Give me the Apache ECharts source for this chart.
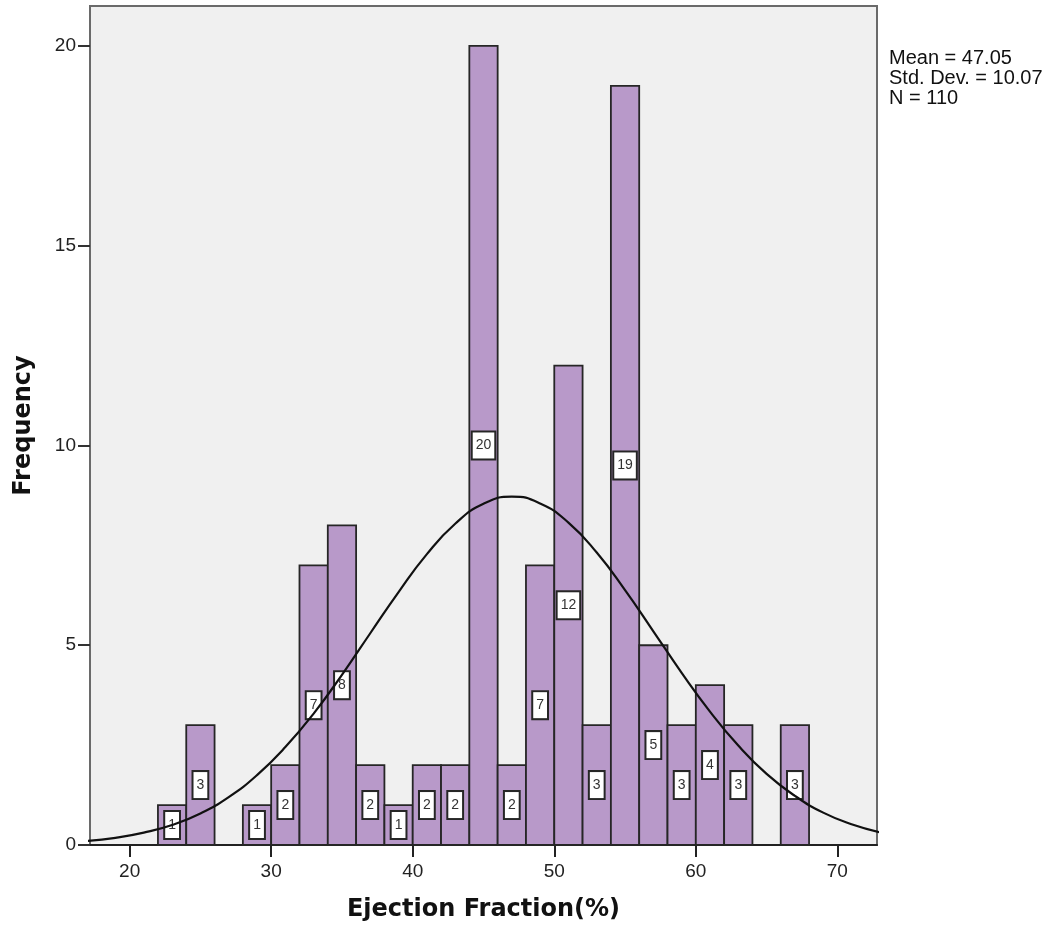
<!DOCTYPE html>
<html>
<head>
<meta charset="utf-8">
<title>Ejection Fraction histogram</title>
<script src="https://cdn.jsdelivr.net/npm/echarts@6/dist/echarts.min.js"></script>
<style>
  html, body { margin: 0; padding: 0; background: #fff; }
  #chart { width: 1055px; height: 936px; }
</style>
</head>
<body>
<div id="chart"></div>
<script>
// histogram bins (width 2) and counts
var binStarts = [22, 24, 26, 28, 30, 32, 34, 36, 38, 40, 42, 44, 46, 48, 50, 52, 54, 56, 58, 60, 62, 64, 66];
var binCounts = [1, 3, 0, 1, 2, 7, 8, 2, 1, 2, 2, 20, 2, 7, 12, 3, 19, 5, 3, 4, 3, 0, 3];
var binWidth = 2;

// normal curve
var curveX = [17, 19, 21, 23, 25, 27, 29, 31, 33, 35, 37, 39, 41, 43, 45, 47, 49, 51, 53, 55, 57, 59, 61, 63, 65, 67, 69, 71, 73];
var curveY = [0.10, 0.18, 0.31, 0.50, 0.79, 1.20, 1.75, 2.45, 3.29, 4.26, 5.30, 6.33, 7.28, 8.04, 8.54, 8.72, 8.55, 8.07, 7.32, 6.38, 5.35, 4.31, 3.34, 2.49, 1.78, 1.23, 0.81, 0.52, 0.32];

var xTicks = [20, 30, 40, 50, 60, 70];
var yTicks = [0, 5, 10, 15, 20];
var statsLines = ['Mean = 47.05', 'Std. Dev. = 10.07', 'N = 110'];

var barData = [];
for (var i = 0; i < binStarts.length; i++) {
    if (binCounts[i] > 0) barData.push([binStarts[i], binStarts[i] + binWidth, binCounts[i]]);
}
var curveData = curveX.map(function (x, i) { return [x, curveY[i]]; });

var chart = echarts.init(document.getElementById('chart'), null, { renderer: 'canvas' });

chart.setOption({
    animation: false,
    backgroundColor: '#ffffff',
    grid: {
        left: 90, right: 178, top: 6, bottom: 91,
        show: true,
        backgroundColor: '#f0f0f0',
        borderColor: '#6a6a6a',
        borderWidth: 2
    },
    xAxis: {
        type: 'value',
        min: 17.2,
        max: 72.8,
        name: 'Ejection Fraction(%)',
        nameLocation: 'middle',
        nameGap: 53,
        nameTextStyle: { fontFamily: 'DejaVu Sans', fontWeight: 'bold', fontSize: 24, color: '#111' },
        axisLine: { show: true, lineStyle: { color: '#222', width: 2 } },
        axisTick: { show: true, length: 12, customValues: xTicks, lineStyle: { color: '#222', width: 2 } },
        axisLabel: { customValues: xTicks, margin: 17, fontFamily: 'Liberation Sans', fontSize: 19, color: '#222' },
        splitLine: { show: false }
    },
    yAxis: {
        type: 'value',
        min: 0,
        max: 21,
        name: 'Frequency',
        nameLocation: 'middle',
        nameGap: 54,
        nameTextStyle: { fontFamily: 'DejaVu Sans', fontWeight: 'bold', fontSize: 24, color: '#111' },
        axisLine: { show: true, lineStyle: { color: '#6a6a6a', width: 2 } },
        axisTick: { show: true, length: 12, customValues: yTicks, lineStyle: { color: '#333', width: 2 } },
        axisLabel: { customValues: yTicks, margin: 14, fontFamily: 'Liberation Sans', fontSize: 19, color: '#222' },
        splitLine: { show: false }
    },
    graphic: [{
        type: 'text',
        left: 889,
        top: 48,
        style: {
            text: statsLines.join('\n'),
            font: '20px "Liberation Sans", Arial, sans-serif',
            lineHeight: 20,
            fill: '#111'
        }
    }],
    series: [
        {
            type: 'custom',
            data: barData,
            encode: { x: [0, 1], y: 2 },
            renderItem: function (params, api) {
                var p0 = api.coord([api.value(0), 0]);
                var p1 = api.coord([api.value(1), api.value(2)]);
                var mid = api.coord([(api.value(0) + api.value(1)) / 2, api.value(2) / 2]);
                return {
                    type: 'group',
                    children: [
                        {
                            type: 'rect',
                            shape: { x: p0[0], y: p1[1], width: p1[0] - p0[0], height: p0[1] - p1[1] },
                            style: { fill: '#b899c9', stroke: '#262626', lineWidth: 1.8 }
                        },
                        {
                            type: 'text',
                            x: mid[0],
                            y: mid[1],
                            style: {
                                text: String(api.value(2)),
                                align: 'center',
                                verticalAlign: 'middle',
                                font: '14px "Liberation Sans", Arial, sans-serif',
                                fill: '#333',
                                backgroundColor: '#ffffff',
                                borderColor: '#262626',
                                borderWidth: 2,
                                padding: [6, 3]
                            }
                        }
                    ]
                };
            },
            z: 2
        },
        {
            type: 'line',
            data: curveData,
            smooth: true,
            showSymbol: false,
            symbol: 'none',
            lineStyle: { color: '#111', width: 2.2 },
            clip: true,
            z: 3
        }
    ]
});
</script>
</body>
</html>
